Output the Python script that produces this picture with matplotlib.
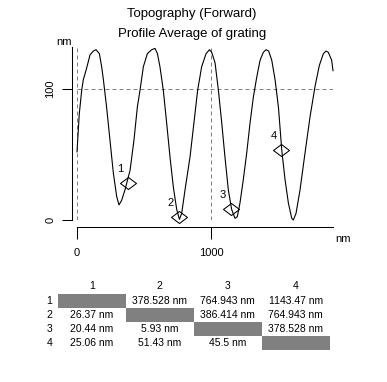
import matplotlib
matplotlib.use("Agg")
import matplotlib.pyplot as plt
from matplotlib.patches import Rectangle
from matplotlib.path import Path

plt.rcParams['font.family'] = ['Liberation Sans', 'DejaVu Sans']

# ---- data ----
profile_x = [0, 17, 35, 47, 72, 97, 122, 142, 167, 184, 197, 221, 246, 271, 296, 313, 333, 358, 396,
             425, 450, 470, 495, 525, 557, 582, 600, 619, 644, 669, 694, 719, 744, 764, 781, 806,
             843, 870, 900, 930, 963, 988, 1005, 1030, 1055, 1080, 1104, 1129, 1154, 1179, 1196,
             1216, 1241, 1266, 1291, 1316, 1341, 1366, 1390, 1410, 1430, 1453, 1478, 1503, 1528,
             1552, 1577, 1602, 1614, 1634, 1664, 1701, 1739, 1776, 1808, 1838, 1858, 1875, 1900, 1910]
profile_y = [52, 81, 99, 107, 116, 126, 129, 130, 127, 117, 107, 86, 61, 36, 18, 11.5, 15, 23, 38,
             61, 86, 99, 117, 127, 130, 131, 127, 117, 99, 74, 48, 25, 8, 0.5, 5, 23,
             48, 72, 99, 117, 127, 130, 128, 120, 99, 74, 48, 23, 8, 1.3, 2.5,
             13, 31, 51, 74, 94, 109, 122, 128, 130, 129, 122, 107, 86, 53,
             31, 13, 1.3, 0, 5, 23, 51, 79, 102, 118, 127, 129, 128, 122, 114]

marker_labels = ["1", "2", "3", "4"]
marker_x = [381, 759.5, 1145.9, 1524.5]
marker_y = [28.5, 2.1, 8.1, 53.6]

x_ticks = [0, 1000]
y_ticks = [0, 100]
ref_x = [0, 1000]
ref_y = 100

titles = ["Topography (Forward)", "Profile Average of grating"]
unit = "nm"

table_cols = ["1", "2", "3", "4"]
table_rows = ["1", "2", "3", "4"]
table_cells = [
    ["", "378.528 nm", "764.943 nm", "1143.47 nm"],
    ["26.37 nm", "", "386.414 nm", "764.943 nm"],
    ["20.44 nm", "5.93 nm", "", "378.528 nm"],
    ["25.06 nm", "51.43 nm", "45.5 nm", ""],
]

# ---- figure ----
W, H = 387, 382
fig = plt.figure(figsize=(W / 100, H / 100), dpi=100)
px = 72 / 100  # points per pixel

ax = fig.add_axes([77 / W, (H - 220) / H, 256 / W, 172.9 / H])
ax.set_xlim(0, 1910)
ax.set_ylim(0, 132)

gray = "#808080"
dash = (0, (4 * px / 0.72, 3 * px / 0.72))
ax.axhline(ref_y, color=gray, lw=0.72, linestyle=dash)
for xv in ref_x:
    ax.axvline(xv, color=gray, lw=0.72, linestyle=dash)

ax.plot(profile_x, profile_y, color="black", lw=0.8, clip_on=False, zorder=3)

diamond = Path([(-1, 0), (0, 0.75), (1, 0), (0, -0.75), (-1, 0)],
               [Path.MOVETO, Path.LINETO, Path.LINETO, Path.LINETO, Path.CLOSEPOLY])
ax.plot(marker_x, marker_y, linestyle="none", marker=diamond, markersize=16 * px,
        markerfacecolor="none", markeredgecolor="black", markeredgewidth=0.75,
        clip_on=False, zorder=4)
for lab, mx, my in zip(marker_labels, marker_x, marker_y):
    ax.annotate(lab, (mx, my), xytext=(-8 * px, 14 * px), textcoords="offset points",
                ha="center", va="center", fontsize=8)

for s in ["top", "right"]:
    ax.spines[s].set_visible(False)
ax.spines["left"].set_position(("outward", 5 * px))
ax.spines["bottom"].set_position(("outward", 7 * px))
for s in ["left", "bottom"]:
    ax.spines[s].set_linewidth(0.75)
ax.set_xticks(x_ticks)
ax.set_yticks(y_ticks)
ax.tick_params(axis="y", length=10 * px, width=0.75, pad=6.5 * px, labelsize=8)
ax.tick_params(axis="x", length=12 * px, width=0.75, pad=9 * px, labelsize=8)
plt.setp(ax.get_yticklabels(), rotation=90, va="center")
ax.patch.set_visible(False)

fig.text(64 / W, 1 - 42 / H, unit, ha="center", va="center", fontsize=8)
fig.text(343 / W, 1 - 239 / H, unit, ha="center", va="center", fontsize=8)

fig.text(192 / W, 1 - 14 / H, titles[0], ha="center", va="center", fontsize=9.5)
fig.text(192 / W, 1 - 34 / H, titles[1], ha="center", va="center", fontsize=9.5)

# ---- table ----
tx = fig.add_axes([57.7 / W, (H - 350) / H, 272 / W, 56 / H])
tx.set_xlim(0, 4)
tx.set_ylim(4, 0)
tx.axis("off")
for j, c in enumerate(table_cols):
    tx.text(j + 0.5, -0.57, c, ha="center", va="center", fontsize=7.5, clip_on=False)
for i, r in enumerate(table_rows):
    tx.text(-0.125, i + 0.5, r, ha="center", va="center", fontsize=7.5, clip_on=False)
    for j in range(4):
        if i == j:
            tx.add_patch(Rectangle((j, i), 1, 1, facecolor=gray, edgecolor="none"))
        else:
            tx.text(j + 0.5, i + 0.5, table_cells[i][j], ha="center", va="center", fontsize=7.5)

fig.savefig("out.png", dpi=100)
